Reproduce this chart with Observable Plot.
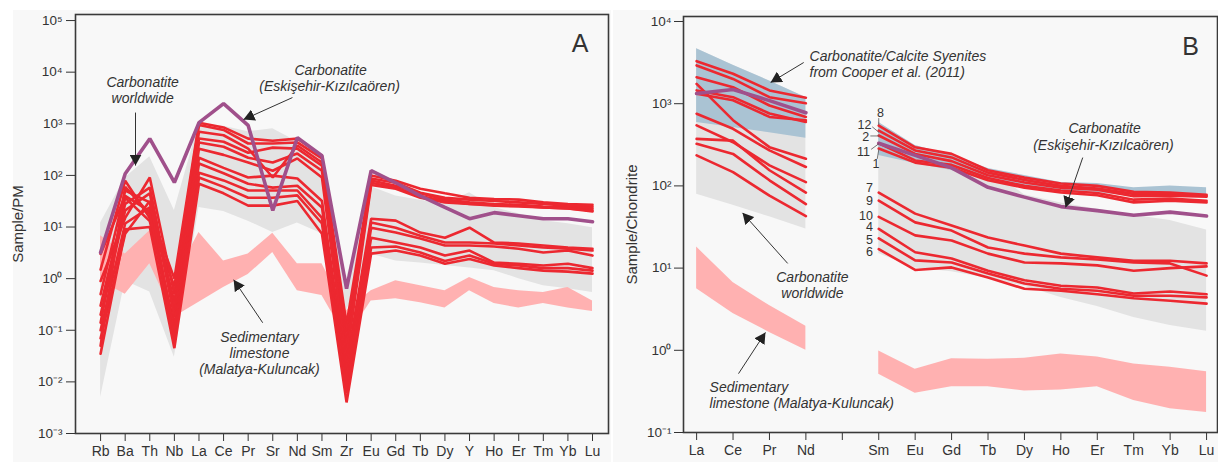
<!DOCTYPE html>
<html><head><meta charset="utf-8">
<script src="https://cdn.jsdelivr.net/npm/d3@7"></script>
<script src="https://cdn.jsdelivr.net/npm/@observablehq/plot@0.6"></script>
<style>
body{margin:0;background:#fff;width:1218px;height:462px;overflow:hidden;position:relative;font-family:"Liberation Sans",Arial,sans-serif}
#a{position:absolute;left:13px;top:10px;width:598px;height:452px}
#b{position:absolute;left:613px;top:10px;width:605px;height:452px}
</style></head><body><div id="a"></div><div id="b"></div>
<script>
// ---------- categories ----------
const elementsA = ["Rb","Ba","Th","Nb","La","Ce","Pr","Sr","Nd","Sm","Zr","Eu","Gd","Tb","Dy","Y","Ho","Er","Tm","Yb","Lu"];
const elementsB = ["La","Ce","Pr","Nd","","Sm","Eu","Gd","Tb","Dy","Ho","Er","Tm","Yb","Lu"];
const sampleIds = ["8","12","2","11","1","7","9","10","4","5","6"];

// ---------- panel A: primitive-mantle normalised ----------
const pm8  = [3.0, 40, 20, 1.0, 1050, 850, 515, 470, 515, 240, 0.13, 100, 79, 55, 45, 37, 35, 34, 30, 28, 27];
const pm12 = [1.5, 79, 15, 0.7, 950, 760, 415, 415, 435, 213, 0.09, 87, 72, 46, 37, 34, 32, 30, 28, 26, 25];
const pm2  = [0.9, 15, 91, 0.5, 700, 600, 330, 91, 380, 178, 0.06, 80, 63, 45, 34, 30, 28, 27, 25, 24, 23];
const pm11 = [0.5, 51, 30, 0.35, 520, 450, 275, 345, 330, 155, 0.045, 72, 58, 40, 32, 28, 27, 26, 24, 23, 21];
const pm1  = [0.3, 28, 58, 0.25, 435, 360, 220, 178, 265, 123, 0.03, 65, 55, 37, 30, 28, 26, 25, 24, 23, 20];
const pm7  = [0.2, 21, 45, 0.18, 330, 250, 178, 123, 213, 91, 0.022, 14.5, 13.3, 7.8, 6.2, 9.7, 5.0, 4.8, 4.4, 4.0, 3.8];
const pm9  = [0.14, 37, 13, 0.13, 220, 140, 91, 99, 87, 32, 0.016, 12.2, 9.7, 6.8, 5.0, 5.0, 4.8, 4.4, 4.0, 3.8, 3.5];
const pm10 = [0.1, 11.7, 24, 0.1, 170, 110, 69, 58, 63, 24, 0.011, 9.7, 7.8, 6.0, 4.4, 4.4, 4.2, 3.8, 3.2, 3.5, 2.8];
const pm4  = [0.07, 7.4, 32, 0.08, 113, 80, 51, 51, 51, 15, 0.008, 6.2, 5.0, 4.0, 2.8, 3.5, 2.04, 1.95, 1.8, 1.95, 1.6];
const pm5  = [0.05, 60, 18, 0.06, 91, 60, 37, 37, 41, 11.7, 0.006, 4.0, 4.2, 3.2, 2.2, 2.8, 1.95, 1.8, 1.6, 1.6, 1.43];
const pm6  = [0.035, 9, 10, 0.045, 69, 45, 26, 26, 32, 7.4, 0.004, 3.05, 3.5, 2.8, 1.95, 2.4, 1.8, 1.6, 1.43, 1.37, 1.25];
const pmSamples = [pm8, pm12, pm2, pm11, pm1, pm7, pm9, pm10, pm4, pm5, pm6];
const purplePM  = [3.2, 108, 515, 73, 1050, 2460, 930, 21, 540, 240, 0.64, 124, 72, 40, 24, 14.5, 19, 16.6, 14.5, 14.5, 12.7];
const grayPMTop = [12, 90, 230, 21, 1000, 900, 700, 800, 450, 220, 1.0, 60, 40, 33, 28, 46, 24, 18, 13.3, 11.6, 9.7];
const grayPMBot = [0.005, 0.9, 0.55, 0.03, 24, 20, 13, 7.8, 12, 7.4, 0.24, 3.0, 2.2, 2.0, 1.8, 1.6, 1.43, 1.0, 0.73, 0.64, 0.54];
const pinkPMTop = [6.8, 3.0, 8.5, 1.0, 7.8, 2.2, 3.0, 7.6, 1.95, 1.95, 0.24, 0.58, 0.91, 0.73, 0.58, 1.05, 0.67, 0.58, 0.54, 0.67, 0.37];
const pinkPMBot = [0.9, 0.5, 1.95, 0.18, 0.35, 0.67, 1.2, 3.2, 0.58, 0.47, 0.07, 0.37, 0.41, 0.34, 0.27, 0.58, 0.33, 0.27, 0.33, 0.27, 0.23];

// ---------- panel B: chondrite normalised (Pm = no data) ----------
const ch8  = [3290, 2310, 1450, 1180, null, 540, 295, 245, 155, 126, 107, 100, 85, 83, 78];
const ch12 = [2920, 2000, 1200, 1010, null, 470, 270, 222, 145, 118, 100, 93, 80, 80, 76];
const ch2  = [2100, 1590, 950, 690, null, 410, 245, 200, 135, 110, 95, 90, 75, 76, 74];
const ch11 = [1450, 1200, 760, 600, null, 330, 204, 180, 125, 100, 88, 82, 68, 70, 66];
const ch1  = [1320, 1100, 690, 630, null, 285, 192, 166, 117, 95, 83, 77, 63, 66, 63];
const ch7  = [1740, 630, 296, 214, null, 83, 46, 33, 23.5, 18.8, 15, 13.5, 12.3, 12.3, 11.4];
const ch9  = [755, 495, 270, 170, null, 66, 36, 28.6, 17.8, 15, 13.5, 12.7, 11.7, 11.4, 8.1];
const ch10 = [545, 340, 178, 111, null, 42, 25, 21.7, 15, 11.7, 11.4, 10.8, 9.3, 10, 10.5];
const ch4  = [373, 355, 155, 83, null, 30, 15.6, 13.1, 9.3, 7.1, 6.1, 5.8, 4.9, 5.2, 4.8];
const ch5  = [325, 245, 117, 60, null, 23, 12.4, 11.7, 8.6, 6.5, 5.6, 5.3, 4.6, 4.6, 4.4];
const ch6  = [235, 147, 76, 43, null, 17, 9.5, 10.2, 7.7, 5.6, 5.3, 4.8, 4.3, 4.0, 3.7];
const chSamples = [ch8, ch12, ch2, ch11, ch1, ch7, ch9, ch10, ch4, ch5, ch6];
const purpleCh  = [1330, 1490, 1090, 775, null, 330, 235, 166, 96, 73, 56, 50, 44, 48, 43];
const grayChTop = [4650, 2940, 1890, 1190, null, 590, 310, 235, 163, 78, 62, 52, 44, 38, 29];
const grayChBot = [79, 58, 42, 30, null, 15, 10, 9, 7.5, 6, 4.4, 3.4, 2.5, 2.0, 1.7];
const blueChTop = [4650, 2940, 1890, 1190, null, 590, 310, 235, 163, 134, 110, 107, 95, 100, 95];
const blueChBot = [590, 515, 442, 380, null, 235, 187, 154, 116, 98, 87, 83, 74, 74, 72];
const pinkChTop = [18, 6.7, 3.5, 1.96, null, 0.98, 0.59, 0.79, 0.78, 0.80, 0.90, 0.83, 0.68, 0.62, 0.55];
const pinkChBot = [5.6, 2.8, 1.65, 1.0, null, 0.51, 0.30, 0.36, 0.36, 0.32, 0.33, 0.36, 0.245, 0.195, 0.175];

// ---------- ticks ----------
const tickValsA   = [1e-3, 1e-2, 1e-1, 1, 10, 100, 1e3, 1e4, 1e5];
const tickLabelsA = ["10⁻³","10⁻²","10⁻¹","10⁰","10¹","10²","10³","10⁴","10⁵"];
const tickValsB   = [1e-1, 1, 10, 100, 1e3, 1e4];
const tickLabelsB = ["10⁻¹","10⁰","10¹","10²","10³","10⁴"];

// ---------- annotations (data coordinates) ----------
const annotA = [
  {text:"Carbonatite", x:1.71, y:6300}, {text:"worldwide", x:1.71, y:3080},
  {text:"Carbonatite", x:9.35, y:10700}, {text:"(Eskişehir-Kızılcaören)", x:9.31, y:5270},
  {text:"Sedimentary", x:6.46, y:0.072}, {text:"limestone", x:6.46, y:0.035},
  {text:"(Malatya-Kuluncak)", x:6.46, y:0.0172}
];
const arrowsA = [
  {x1:1.42, y1:1650, x2:1.42, y2:155},
  {x1:7.80, y1:3220, x2:5.81, y2:1205},
  {x1:6.59, y1:0.14, x2:5.41, y2:0.956}
];
const annotBmid = [
  {text:"Carbonatite", x:11.2, y:499}, {text:"(Eskişehir-Kızılcaören)", x:11.17, y:310},
  {text:"Carbonatite", x:3.18, y:7.7}, {text:"worldwide", x:3.18, y:4.9}
];
const annotBstart = [
  {text:"Carbonatite/Calcite Syenites", x:3.10, y:3750}, {text:"from Cooper et al. (2011)", x:3.10, y:2400},
  {text:"Sedimentary", x:0.357, y:0.352}, {text:"limestone (Malatya-Kuluncak)", x:0.357, y:0.225}
];
const arrowsB = [
  {x1:2.94, y1:3170, x2:2.03, y2:1810},
  {x1:10.6, y1:221, x2:10.13, y2:54.6},
  {x1:2.50, y1:11.4, x2:1.26, y2:47},
  {x1:1.15, y1:0.52, x2:1.89, y2:1.65}
];
// sample number labels beside the Sm end of each line
const numLabelsEnd = [
  {text:"12", x:4.80, y:558}, {text:"2", x:4.74, y:388}, {text:"11", x:4.76, y:262}, {text:"1", x:5.02, y:187},
  {text:"7", x:4.84, y:95.6}, {text:"9", x:4.84, y:64.6}, {text:"10", x:4.84, y:43.6}, {text:"4", x:4.84, y:31.2},
  {text:"5", x:4.84, y:22.0}, {text:"6", x:4.84, y:15.5}
];
const numLabelsMid = [{text:"8", x:5.05, y:770}];
const leaders = [
  {x1:5.0, y1:660, x2:5.0, y2:560},
  {x1:4.83, y1:520, x2:5.0, y2:450},
  {x1:4.78, y1:405, x2:5.0, y2:405},
  {x1:4.80, y1:280, x2:5.0, y2:325},
  {x1:4.96, y1:215, x2:5.0, y2:275}
];

// ---------- styles ----------
const GRAY = "#e3e3e3", PINK = "#ffb1b1", BLUE = "#aac3d3", RED = "#ec2830", PURPLE = "#a0508b", INK = "#333";
const FONT = "'Liberation Sans', Arial, Helvetica, sans-serif";

function field(top, bot) {
  return top.map((t, i) => ({i, t, b: bot[i], seg: i < 4 ? "L" : "R"})).filter(d => d.t != null && d.b != null);
}
function lines(list, ids, split) {
  const rows = [];
  list.forEach((arr, k) => arr.forEach((v, i) => {
    if (v != null) rows.push({id: ids[k], i, v, z: ids[k] + (split && i > 4 ? "R" : "L")});
  }));
  return rows;
}
function finish(svg, id, xLabels, yLabels) {
  const ns = "http://www.w3.org/2000/svg";
  const defs = document.createElementNS(ns, "defs");
  defs.innerHTML = '<marker id="' + id + '" viewBox="0 0 11 12" refX="11" refY="6" markerWidth="11" markerHeight="12" markerUnits="userSpaceOnUse" orient="auto"><path d="M0,0L11,6L0,12Z" fill="#222"/></marker>';
  svg.insertBefore(defs, svg.firstChild);
  const groups = svg.querySelectorAll('g[aria-label="link"]');
  const g = groups[groups.length - 1];
  g.querySelectorAll("path,line").forEach(p => p.setAttribute("marker-end", "url(#" + id + ")"));
  svg.querySelectorAll("text").forEach(t => {
    const s = t.textContent;
    if (/Sample\//.test(s)) {
      t.textContent = s.replace(/[\s]*[→↑←↓][\s]*/g, "").trim();
      t.style.fontSize = "15px";
    } else if (xLabels.includes(s) && s !== "" && !t.closest('g[aria-label="text"]')) {
      t.style.fontSize = "14px";
    } else if (yLabels.includes(s)) {
      t.style.fontSize = "13.5px";
    }
  });
}
const baseStyle = {background: "#f8f8f8", fontFamily: FONT, fontSize: "13px", color: INK, overflow: "visible"};

// ---------- panel A ----------
const plotA = Plot.plot({
  width: 598, height: 452, marginLeft: 62, marginRight: 3, marginTop: 4, marginBottom: 29,
  style: baseStyle,
  x: {domain: [-1.02, 20.65], ticks: d3.range(elementsA.length), tickFormat: i => elementsA[i], tickSize: 8, tickPadding: 5, label: null},
  y: {type: "log", domain: [1e-3, 1.31e5], ticks: tickValsA, tickFormat: v => tickLabelsA[tickValsA.indexOf(v)], tickSize: 9, tickPadding: 4,
      label: "Sample/PM", labelAnchor: "center", labelOffset: 63},
  marks: [
    Plot.areaY(field(grayPMTop, grayPMBot), {x: "i", y1: "b", y2: "t", fill: GRAY}),
    Plot.areaY(field(pinkPMTop, pinkPMBot), {x: "i", y1: "b", y2: "t", fill: PINK}),
    Plot.line(lines(pmSamples, sampleIds, false), {x: "i", y: "v", z: "z", stroke: RED, strokeWidth: 2.6, strokeLinejoin: "miter"}),
    Plot.line(lines([purplePM], ["p"], false), {x: "i", y: "v", z: "z", stroke: PURPLE, strokeWidth: 3.6, strokeLinejoin: "miter"}),
    Plot.frame({stroke: "#3a3a3a", strokeWidth: 1.6}),
    Plot.text(annotA, {x: "x", y: "y", text: "text", fontStyle: "italic", fontSize: 14, fill: INK}),
    Plot.text(["A"], {x: 19.5, y: 35800, text: d => d, fontSize: 25, fill: INK}),
    Plot.link(arrowsA, {x1: "x1", y1: "y1", x2: "x2", y2: "y2", stroke: INK, strokeWidth: 1})
  ]
});
document.getElementById("a").appendChild(plotA);
finish(plotA, "headA", elementsA, tickLabelsA);

// ---------- panel B ----------
const plotB = Plot.plot({
  width: 605, height: 452, marginLeft: 70, marginRight: 1, marginTop: 6, marginBottom: 30,
  style: baseStyle,
  x: {domain: [-0.36, 14.3], ticks: d3.range(elementsB.length), tickFormat: i => elementsB[i], tickSize: 8, tickPadding: 5, label: null},
  y: {type: "log", domain: [1e-1, 1.15e4], ticks: tickValsB, tickFormat: v => tickLabelsB[tickValsB.indexOf(v)], tickSize: 9, tickPadding: 3,
      label: "Sample/Chondrite", labelAnchor: "center", labelOffset: 57},
  marks: [
    Plot.areaY(field(grayChTop, grayChBot), {x: "i", y1: "b", y2: "t", z: "seg", fill: GRAY}),
    Plot.areaY(field(blueChTop, blueChBot), {x: "i", y1: "b", y2: "t", z: "seg", fill: BLUE}),
    Plot.areaY(field(pinkChTop, pinkChBot), {x: "i", y1: "b", y2: "t", z: "seg", fill: PINK}),
    Plot.line(lines(chSamples, sampleIds, true), {x: "i", y: "v", z: "z", stroke: RED, strokeWidth: 2.6}),
    Plot.line(lines([purpleCh], ["p"], true), {x: "i", y: "v", z: "z", stroke: PURPLE, strokeWidth: 3.6}),
    Plot.frame({stroke: "#3a3a3a", strokeWidth: 1.6}),
    Plot.line(leaders.flatMap((d, k) => [{x: d.x1, y: d.y1, k}, {x: d.x2, y: d.y2, k}]), {x: "x", y: "y", z: "k", stroke: "#555", strokeWidth: 0.8}),
    Plot.text(numLabelsEnd, {x: "x", y: "y", text: "text", textAnchor: "end", fontSize: 12.5, fill: INK}),
    Plot.text(numLabelsMid, {x: "x", y: "y", text: "text", fontSize: 12.5, fill: INK}),
    Plot.text(annotBmid, {x: "x", y: "y", text: "text", fontStyle: "italic", fontSize: 14, fill: INK}),
    Plot.text(annotBstart, {x: "x", y: "y", text: "text", fontStyle: "italic", fontSize: 14, fill: INK, textAnchor: "start"}),
    Plot.text(["B"], {x: 13.56, y: 4830, text: d => d, fontSize: 25, fill: INK}),
    Plot.link(arrowsB, {x1: "x1", y1: "y1", x2: "x2", y2: "y2", stroke: INK, strokeWidth: 1})
  ]
});
document.getElementById("b").appendChild(plotB);
finish(plotB, "headB", elementsB, tickLabelsB);
</script></body></html>
